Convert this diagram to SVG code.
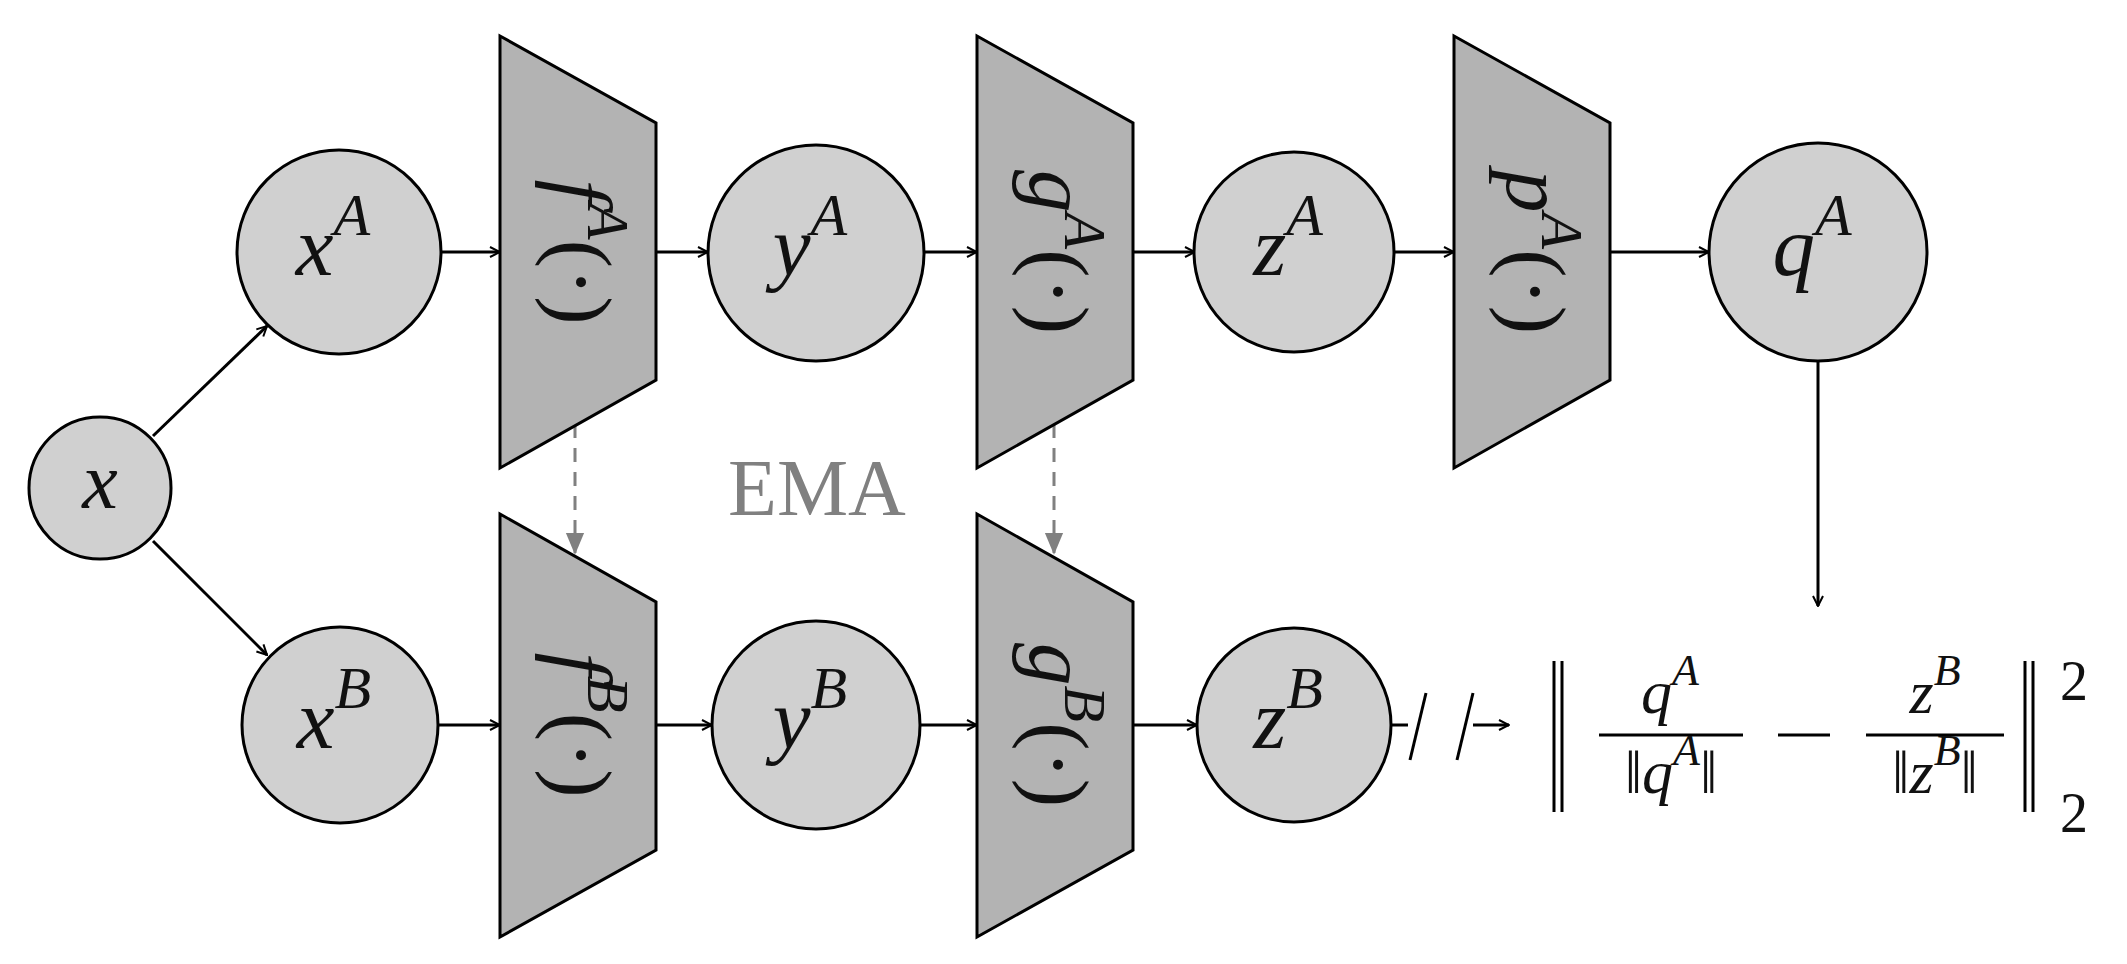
<svg xmlns="http://www.w3.org/2000/svg" width="2127" height="964" viewBox="0 0 2127 964">
<style>
.c{fill:#d0d0d0;stroke:#000;stroke-width:3}
.t{fill:#b3b3b3;stroke:#000;stroke-width:3}
.e{stroke:#000;stroke-width:3;fill:none}
.m{font-family:"Liberation Serif",serif;font-style:italic;fill:#111}
.r{font-family:"Liberation Serif",serif;fill:#111}
</style>
<defs>
<marker id="a" viewBox="0 0 12 12" refX="11" refY="6" markerWidth="12" markerHeight="12" markerUnits="userSpaceOnUse" orient="auto"><path d="M1,1 L11,6 L1,11" fill="none" stroke="#000" stroke-width="2"/></marker>
<marker id="g" viewBox="0 0 12 12" refX="11" refY="6" markerWidth="22" markerHeight="22" markerUnits="userSpaceOnUse" orient="auto"><path d="M0,1 L12,6 L0,11Z" fill="#808080"/></marker>
</defs>
<g id="connectors">
<line class="e" x1="153" y1="436" x2="267" y2="326" marker-end="url(#a)"/>
<line class="e" x1="153" y1="541" x2="267" y2="655" marker-end="url(#a)"/>
<line class="e" x1="442" y1="252" x2="500" y2="252" marker-end="url(#a)"/>
<line class="e" x1="656" y1="252" x2="708" y2="252" marker-end="url(#a)"/>
<line class="e" x1="925" y1="252" x2="977" y2="252" marker-end="url(#a)"/>
<line class="e" x1="1133" y1="252" x2="1195" y2="252" marker-end="url(#a)"/>
<line class="e" x1="1393" y1="252" x2="1454" y2="252" marker-end="url(#a)"/>
<line class="e" x1="1610" y1="252" x2="1709" y2="252" marker-end="url(#a)"/>
<line class="e" x1="438" y1="725" x2="500" y2="725" marker-end="url(#a)"/>
<line class="e" x1="656" y1="725" x2="712" y2="725" marker-end="url(#a)"/>
<line class="e" x1="920" y1="725" x2="977" y2="725" marker-end="url(#a)"/>
<line class="e" x1="1133" y1="725" x2="1197" y2="725" marker-end="url(#a)"/>
<line class="e" x1="1818" y1="360" x2="1818" y2="606" marker-end="url(#a)"/>
<line class="e" x1="1390" y1="725" x2="1408" y2="725"/>
<line class="e" x1="1410" y1="760" x2="1426" y2="693"/>
<line class="e" x1="1457" y1="760" x2="1473" y2="693"/>
<line class="e" x1="1473" y1="725" x2="1509" y2="725" marker-end="url(#a)"/>
<line x1="575" y1="424" x2="575" y2="553" stroke="#808080" stroke-width="3" stroke-dasharray="14,10" marker-end="url(#g)"/>
<line x1="1054" y1="424" x2="1054" y2="553" stroke="#808080" stroke-width="3" stroke-dasharray="14,10" marker-end="url(#g)"/>
</g>
<text x="817" y="515" font-family="Liberation Serif,serif" font-size="80" fill="#808080" text-anchor="middle">EMA</text>
<g id="x"><circle class="c" cx="100" cy="488" r="71"/><text class="m" x="100" y="508" font-size="80" text-anchor="middle">x</text></g>
<g id="xA"><circle class="c" cx="339" cy="252" r="102"/><text class="m" x="333" y="275" font-size="85" text-anchor="middle">x<tspan font-size="60" dy="-40">A</tspan></text></g>
<g id="xB"><circle class="c" cx="340" cy="725" r="98"/><text class="m" x="334" y="748" font-size="85" text-anchor="middle">x<tspan font-size="60" dy="-40">B</tspan></text></g>
<g id="yA"><circle class="c" cx="816" cy="253" r="108"/><text class="m" x="810" y="275" font-size="85" text-anchor="middle">y<tspan font-size="60" dy="-40">A</tspan></text></g>
<g id="yB"><circle class="c" cx="816" cy="725" r="104"/><text class="m" x="810" y="748" font-size="85" text-anchor="middle">y<tspan font-size="60" dy="-40">B</tspan></text></g>
<g id="zA"><circle class="c" cx="1294" cy="252" r="100"/><text class="m" x="1288" y="275" font-size="85" text-anchor="middle">z<tspan font-size="60" dy="-40">A</tspan></text></g>
<g id="zB"><circle class="c" cx="1294" cy="725" r="97"/><text class="m" x="1288" y="748" font-size="85" text-anchor="middle">z<tspan font-size="60" dy="-40">B</tspan></text></g>
<g id="qA"><circle class="c" cx="1818" cy="252" r="109"/><text class="m" x="1812" y="275" font-size="85" text-anchor="middle">q<tspan font-size="60" dy="-40">A</tspan></text></g>
<g id="fA"><path class="t" d="M500,36 L656,123 L656,380 L500,468Z"/><text class="m" transform="translate(553,252) rotate(90)" font-size="85" text-anchor="middle">f<tspan font-size="60" dy="-35">A</tspan><tspan class="r" font-style="normal" font-size="85" dy="35">(·)</tspan></text></g>
<g id="fB"><path class="t" d="M500,514 L656,602 L656,850 L500,937Z"/><text class="m" transform="translate(553,725) rotate(90)" font-size="85" text-anchor="middle">f<tspan font-size="60" dy="-35">B</tspan><tspan font-style="normal" font-size="85" dy="35">(·)</tspan></text></g>
<g id="gA"><path class="t" d="M977,36 L1133,123 L1133,380 L977,468Z"/><text class="m" transform="translate(1030,252) rotate(90)" font-size="85" text-anchor="middle">g<tspan font-size="60" dy="-35">A</tspan><tspan font-style="normal" font-size="85" dy="35">(·)</tspan></text></g>
<g id="gB"><path class="t" d="M977,514 L1133,602 L1133,850 L977,937Z"/><text class="m" transform="translate(1030,725) rotate(90)" font-size="85" text-anchor="middle">g<tspan font-size="60" dy="-35">B</tspan><tspan font-style="normal" font-size="85" dy="35">(·)</tspan></text></g>
<g id="pA"><path class="t" d="M1454,36 L1610,123 L1610,380 L1454,468Z"/><text class="m" transform="translate(1507,252) rotate(90)" font-size="85" text-anchor="middle">p<tspan font-size="60" dy="-35">A</tspan><tspan font-style="normal" font-size="85" dy="35">(·)</tspan></text></g>
<g id="loss">
<line class="e" x1="1554" y1="661" x2="1554" y2="812" stroke-width="2.5"/><line class="e" x1="1562" y1="661" x2="1562" y2="812" stroke-width="2.5"/>
<text class="m" x="1670" y="713" font-size="62" text-anchor="middle">q<tspan font-size="44" dy="-28">A</tspan></text>
<line class="e" x1="1599" y1="735" x2="1743" y2="735" stroke-width="2.5"/>
<text class="m" x="1671" y="793" font-size="62" text-anchor="middle"><tspan font-style="normal">‖</tspan>q<tspan font-size="44" dy="-28">A</tspan><tspan font-style="normal" font-size="62" dy="28">‖</tspan></text>
<line class="e" x1="1778" y1="735" x2="1830" y2="735" stroke-width="2.5"/>
<text class="m" x="1935" y="713" font-size="62" text-anchor="middle">z<tspan font-size="44" dy="-28">B</tspan></text>
<line class="e" x1="1866" y1="735" x2="2004" y2="735" stroke-width="2.5"/>
<text class="m" x="1935" y="793" font-size="62" text-anchor="middle"><tspan font-style="normal">‖</tspan>z<tspan font-size="44" dy="-28">B</tspan><tspan font-style="normal" font-size="62" dy="28">‖</tspan></text>
<line class="e" x1="2025" y1="661" x2="2025" y2="812" stroke-width="2.5"/><line class="e" x1="2033" y1="661" x2="2033" y2="812" stroke-width="2.5"/>
<text class="r" x="2060" y="700" font-size="56">2</text>
<text class="r" x="2060" y="832" font-size="56">2</text>
</g>
</svg>
